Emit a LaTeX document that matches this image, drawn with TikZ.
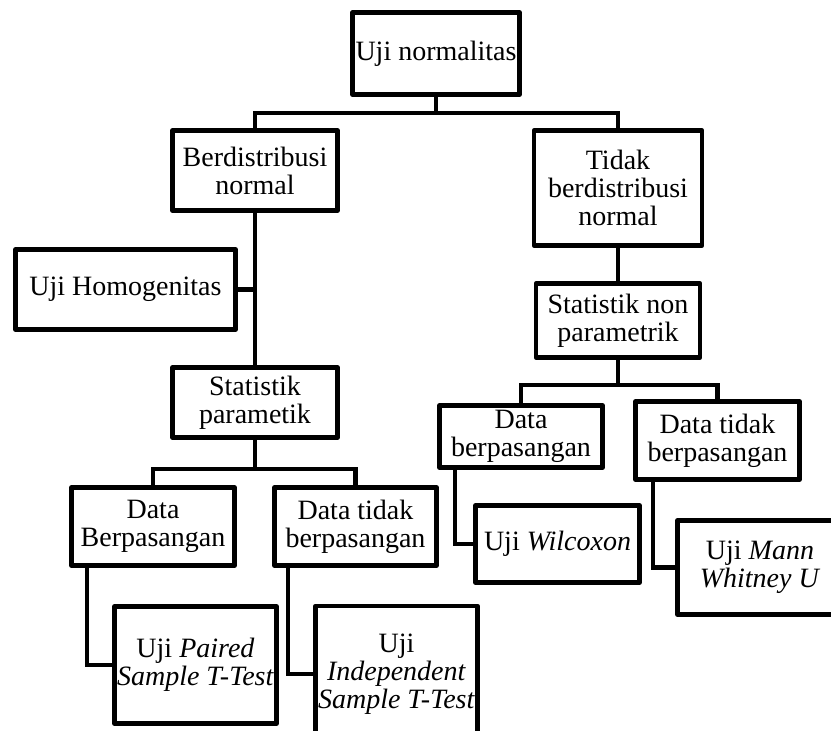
\documentclass[tikz,border=0pt]{standalone}
\usepackage{fontspec}
\setmainfont{Liberation Serif}
\begin{document}
\begin{tikzpicture}[x=1pt,y=-1pt,
  box/.style={draw,line width=4.5pt,rectangle,inner sep=0pt,outer sep=0pt,
    align=center,font=\fontsize{28}{28}\selectfont,line join=round},
  conn/.style={draw,line width=4.5pt,line join=miter}]
\useasboundingbox (0,0) rectangle (831,731);
\clip (0,0) rectangle (831,731);
% boxes
\node[box,minimum width=167pt,minimum height=82pt] (norm) at (436,53.5) {Uji normalitas};
\node[box,minimum width=165pt,minimum height=80pt] (berd) at (255,170.5) {Berdistribusi\\normal};
\node[box,minimum width=168pt,minimum height=115pt] (tidak) at (618,188) {Tidak\\berdistribusi\\normal};
\node[box,minimum width=220pt,minimum height=80pt] (homog) at (125.5,289.5) {Uji Homogenitas};
\node[box,minimum width=165pt,minimum height=70pt] (statpar) at (255,402.5) {Statistik\\parametik};
\node[box,minimum width=164pt,minimum height=74pt] (statnon) at (618,320.5) {Statistik non\\parametrik};
\node[box,minimum width=163pt,minimum height=78pt] (dataB) at (153,526.5) {Data\\Berpasangan};
\node[box,minimum width=162pt,minimum height=78pt] (dataT) at (355.5,526.5) {Data tidak\\berpasangan};
\node[box,minimum width=162pt,minimum height=117pt] (paired) at (195.5,665) {Uji \textit{Paired}\\\textit{Sample T-Test}};
\node[box,minimum width=162pt,minimum height=136pt] (indep) at (396.5,674) {Uji\\\textit{Independent}\\\textit{Sample T-Test}};
\node[box,minimum width=163pt,minimum height=62pt] (dataBR) at (521,436.5) {Data\\berpasangan};
\node[box,minimum width=164pt,minimum height=78pt] (dataTR) at (717.5,440.5) {Data tidak\\berpasangan};
\node[box,minimum width=164pt,minimum height=77pt] (wilc) at (557.5,544) {Uji \textit{Wilcoxon}};
\node[box,minimum width=165pt,minimum height=94pt] (mann) at (760,567.5) {Uji \textit{Mann}\\\textit{Whitney U}};
% helper coordinates
\coordinate (bar1) at (0,113);
\coordinate (bar2) at (0,469);
\coordinate (bar3) at (0,385);
\coordinate (k1) at (87,0);
\coordinate (k2) at (288,0);
\coordinate (k3) at (455,0);
\coordinate (k4) at (653,0);
% connectors
\draw[conn] (norm.south) -- (norm.south |- bar1);
\draw[conn] (berd.north) -- (berd.north |- bar1) -- (tidak.north |- bar1) -- (tidak.north);
\draw[conn] (berd.south) -- (statpar.north);
\draw[conn] (homog.east) -- (homog.east -| berd.south);
\draw[conn] (statpar.south) -- (statpar.south |- bar2);
\draw[conn] (dataB.north) -- (dataB.north |- bar2) -- (dataT.north |- bar2) -- (dataT.north);
\draw[conn] (dataB.south -| k1) -- (paired.west -| k1) -- (paired.west);
\draw[conn] (dataT.south -| k2) -- (indep.west -| k2) -- (indep.west);
\draw[conn] (tidak.south) -- (statnon.north);
\draw[conn] (statnon.south) -- (statnon.south |- bar3);
\draw[conn] (dataBR.north) -- (dataBR.north |- bar3) -- (dataTR.north |- bar3) -- (dataTR.north);
\draw[conn] (dataBR.south -| k3) -- (wilc.west -| k3) -- (wilc.west);
\draw[conn] (dataTR.south -| k4) -- (mann.west -| k4) -- (mann.west);
\end{tikzpicture}
\end{document}
